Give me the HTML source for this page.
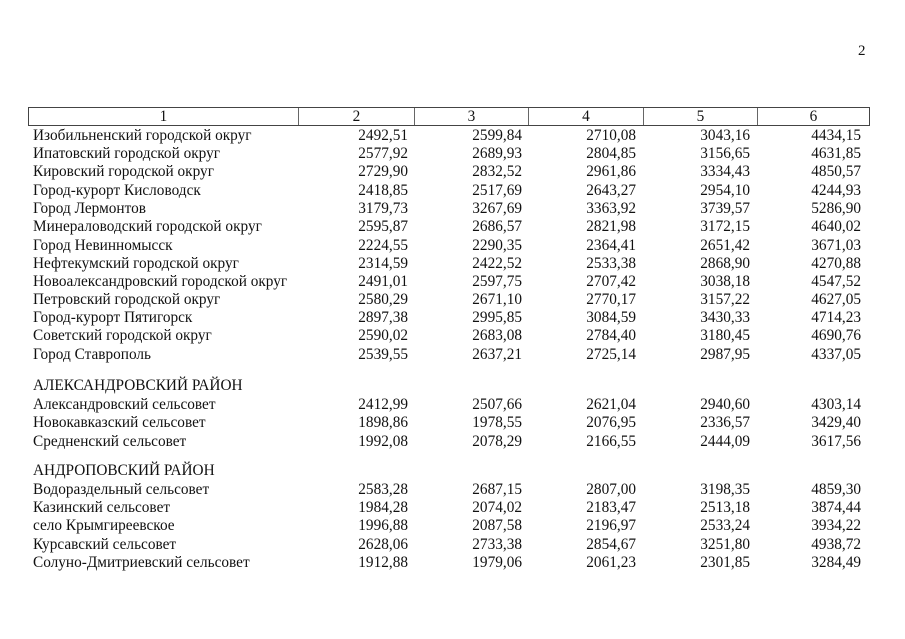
<!DOCTYPE html>
<html><head><meta charset="utf-8"><style>
body{margin:0;width:905px;height:639px;background:#fff;position:relative;overflow:hidden;font-family:"Liberation Serif",serif;font-size:15.3px;color:#111}
.r{position:absolute;left:0;width:905px;height:18px;line-height:18px}
.r span{position:absolute;white-space:nowrap}
.n{text-align:right;width:100px}
#hdr{position:absolute;left:28px;top:107px;width:842px;height:19px;border:1px solid #444;box-sizing:border-box}
#hdr div{position:absolute;top:0;height:17px;line-height:17px;text-align:center;border-right:1px solid #666}
</style></head><body>
<div style="position:absolute;left:858px;top:43px;font-size:15px">2</div>
<div id="hdr">
<div style="left:0;width:269px">1</div>
<div style="left:270px;width:115px">2</div>
<div style="left:386px;width:113px">3</div>
<div style="left:500px;width:114px">4</div>
<div style="left:615px;width:113px">5</div>
<div style="left:729px;width:111px;border-right:none">6</div>
</div>
<div id="rows"></div>
<script>
const d=[
[136,"Изобильненский городской округ","2492,51","2599,84","2710,08","3043,16","4434,15"],
[154,"Ипатовский городской округ","2577,92","2689,93","2804,85","3156,65","4631,85"],
[172,"Кировский городской округ","2729,90","2832,52","2961,86","3334,43","4850,57"],
[191,"Город-курорт Кисловодск","2418,85","2517,69","2643,27","2954,10","4244,93"],
[209,"Город Лермонтов","3179,73","3267,69","3363,92","3739,57","5286,90"],
[227,"Минераловодский городской округ","2595,87","2686,57","2821,98","3172,15","4640,02"],
[246,"Город Невинномысск","2224,55","2290,35","2364,41","2651,42","3671,03"],
[264,"Нефтекумский городской округ","2314,59","2422,52","2533,38","2868,90","4270,88"],
[282,"Новоалександровский городской округ","2491,01","2597,75","2707,42","3038,18","4547,52"],
[300,"Петровский городской округ","2580,29","2671,10","2770,17","3157,22","4627,05"],
[318,"Город-курорт Пятигорск","2897,38","2995,85","3084,59","3430,33","4714,23"],
[336,"Советский городской округ","2590,02","2683,08","2784,40","3180,45","4690,76"],
[355,"Город Ставрополь","2539,55","2637,21","2725,14","2987,95","4337,05"],
[386,"АЛЕКСАНДРОВСКИЙ РАЙОН"],
[405,"Александровский сельсовет","2412,99","2507,66","2621,04","2940,60","4303,14"],
[423,"Новокавказский сельсовет","1898,86","1978,55","2076,95","2336,57","3429,40"],
[442,"Средненский сельсовет","1992,08","2078,29","2166,55","2444,09","3617,56"],
[471,"АНДРОПОВСКИЙ РАЙОН"],
[490,"Водораздельный сельсовет","2583,28","2687,15","2807,00","3198,35","4859,30"],
[508,"Казинский сельсовет","1984,28","2074,02","2183,47","2513,18","3874,44"],
[526,"село Крымгиреевское","1996,88","2087,58","2196,97","2533,24","3934,22"],
[545,"Курсавский сельсовет","2628,06","2733,38","2854,67","3251,80","4938,72"],
[563,"Солуно-Дмитриевский сельсовет","1912,88","1979,06","2061,23","2301,85","3284,49"]];
const R=[408,522,636,750,861];let h="";
for(const r of d){h+=`<div class="r" style="top:${r[0]-9}px"><span style="left:33px">${r[1]}</span>`;
for(let i=2;i<r.length;i++)h+=`<span class="n" style="left:${R[i-2]-100}px">${r[i]}</span>`;h+="</div>";}
document.getElementById("rows").innerHTML=h;
</script>
</body></html>
